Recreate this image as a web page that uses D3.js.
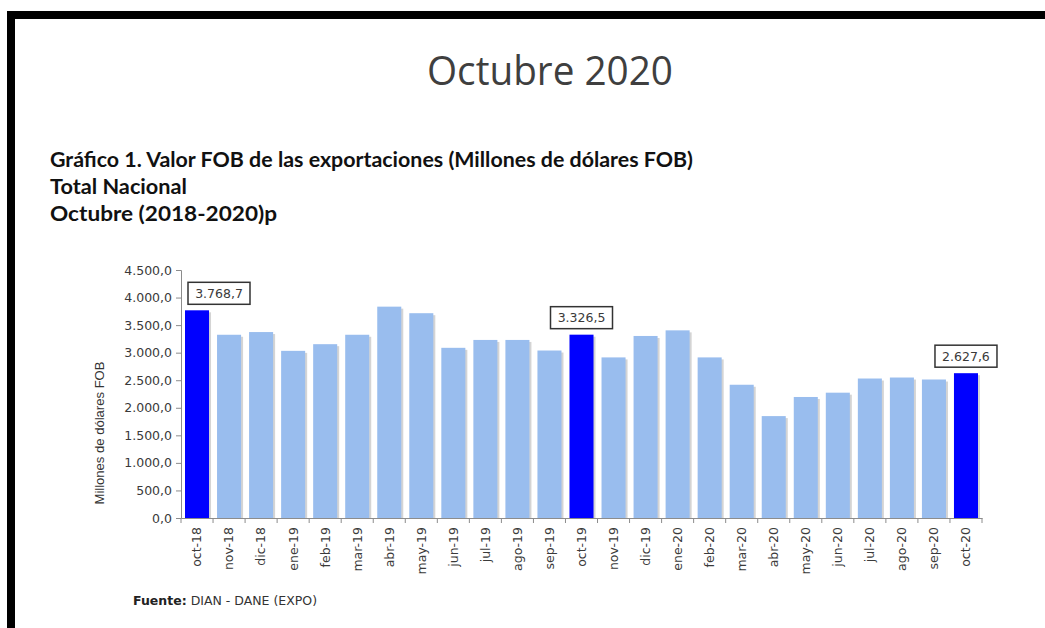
<!DOCTYPE html>
<html>
<head>
<meta charset="utf-8">
<script src="https://cdn.jsdelivr.net/npm/d3@7"></script>
<style>
  body { margin: 0; background: #fff; }
  svg { display: block; }
</style>
</head>
<body>
<div id="chart"></div>
<script>
var w = 1045, h = 628;

// data
var months = ['oct-18', 'nov-18', 'dic-18', 'ene-19', 'feb-19', 'mar-19', 'abr-19', 'may-19',
  'jun-19', 'jul-19', 'ago-19', 'sep-19', 'oct-19', 'nov-19', 'dic-19', 'ene-20', 'feb-20',
  'mar-20', 'abr-20', 'may-20', 'jun-20', 'jul-20', 'ago-20', 'sep-20', 'oct-20'];
var values = [3768.7, 3325, 3374, 3033, 3154, 3325, 3835, 3716, 3088, 3231, 3231, 3039,
  3326.5, 2914, 3303, 3405, 2914, 2418, 1849, 2196, 2274, 2531, 2549, 2513, 2627.6];
var highlighted = ['oct-18', 'oct-19', 'oct-20'];
var yTicks = [0, 500, 1000, 1500, 2000, 2500, 3000, 3500, 4000, 4500];

var fmt = d3.formatLocale({ decimal: ',', thousands: '.', grouping: [3], currency: ['', ''] }).format(',.1f');

var svg = d3.select('#chart').append('svg').attr('width', w).attr('height', h);

// page frame (top and left black bars)
svg.append('rect').attr('x', 7).attr('y', 11).attr('width', w - 7).attr('height', 8).attr('fill', '#000');
svg.append('rect').attr('x', 7).attr('y', 11).attr('width', 8).attr('height', h - 11).attr('fill', '#000');

// titles
svg.append('text')
  .attr('x', 550).attr('y', 85)
  .attr('text-anchor', 'middle')
  .attr('textLength', 246).attr('lengthAdjust', 'spacingAndGlyphs')
  .style('font-family', 'Open Sans, sans-serif').style('font-size', '40px')
  .attr('fill', '#3f3f3f')
  .text('Octubre 2020');

var sub = ['Gráfico 1. Valor FOB de las exportaciones (Millones de dólares FOB)', 'Total Nacional', 'Octubre (2018-2020)p'];
var subLen = [643, 137, 227];
svg.selectAll('text.sub').data(sub).enter().append('text')
  .attr('class', 'sub')
  .attr('x', 50)
  .attr('y', function (d, i) { return 167 + i * 27; })
  .attr('textLength', function (d, i) { return subLen[i]; })
  .attr('lengthAdjust', 'spacingAndGlyphs')
  .style('font-family', 'Lato, sans-serif').style('font-size', '20px').style('font-weight', 'bold')
  .attr('fill', '#111')
  .text(function (d) { return d; });

// scales
var x = d3.scaleBand().domain(months).range([181, 982]).paddingInner(0.25).paddingOuter(0.125);
var y = d3.scaleLinear().domain([0, 4500]).range([518, 270]);

var g = svg.append('g');

// bars with a soft shadow
g.selectAll('rect.shadow').data(months).enter().append('rect')
  .attr('class', 'shadow')
  .attr('x', function (d) { return x(d) + 2; })
  .attr('y', function (d, i) { return y(values[i]) + 2; })
  .attr('width', x.bandwidth())
  .attr('height', function (d, i) { return y(0) - y(values[i]) - 2; })
  .attr('fill', '#d4d4d4');

g.selectAll('rect.bar').data(months).enter().append('rect')
  .attr('class', 'bar')
  .attr('x', function (d) { return x(d); })
  .attr('y', function (d, i) { return y(values[i]); })
  .attr('width', x.bandwidth())
  .attr('height', function (d, i) { return y(0) - y(values[i]); })
  .attr('fill', function (d) { return highlighted.indexOf(d) >= 0 ? '#0000ff' : '#99bdee'; });

// y axis
var yAxis = g.append('g').attr('transform', 'translate(181,0)')
  .call(d3.axisLeft(y).tickValues(yTicks).tickSize(5).tickFormat(fmt));
yAxis.select('.domain').attr('stroke', '#8c8c8c');
yAxis.selectAll('.tick line').attr('stroke', '#8c8c8c');
yAxis.selectAll('.tick text')
  .attr('fill', '#3a3a3a').attr('x', -9)
  .style('font-family', 'DejaVu Sans, sans-serif').style('font-size', '12.5px');

// x axis
var xAxis = g.append('g').attr('transform', 'translate(0,518)')
  .call(d3.axisBottom(x).tickSize(0).tickSizeOuter(0));
xAxis.select('.domain').attr('stroke', '#8c8c8c');
xAxis.selectAll('.tick text')
  .attr('transform', 'rotate(-90)')
  .attr('x', -9).attr('y', 0).attr('dy', '0.35em')
  .attr('text-anchor', 'end')
  .attr('fill', '#3a3a3a')
  .style('font-family', 'DejaVu Sans, sans-serif').style('font-size', '12.5px');

// tick marks at band boundaries
var step = x.step();
var bounds = months.map(function (d) { return x(d) - x.paddingInner() * step / 2; }).concat([982]);
g.selectAll('line.xt').data(bounds).enter().append('line')
  .attr('class', 'xt')
  .attr('x1', function (d) { return d; }).attr('x2', function (d) { return d; })
  .attr('y1', 518).attr('y2', 523)
  .attr('stroke', '#8c8c8c');

// y axis title
svg.append('text')
  .attr('transform', 'translate(104,433) rotate(-90)')
  .attr('text-anchor', 'middle')
  .style('font-family', 'Liberation Sans, sans-serif').style('font-size', '12.5px')
  .attr('textLength', 143).attr('lengthAdjust', 'spacingAndGlyphs')
  .attr('fill', '#333')
  .text('Millones de dólares FOB');

// value labels for highlighted bars
var boxW = 62, boxH = 22;
highlighted.forEach(function (m) {
  var i = months.indexOf(m);
  var cx = x(m) + x.bandwidth() / 2;
  var bx = Math.max(cx - boxW / 2, 188);
  var by = y(values[i]) - 6 - boxH;
  g.append('rect')
    .attr('x', bx).attr('y', by).attr('width', boxW).attr('height', boxH)
    .attr('fill', '#fff').attr('stroke', '#333').attr('stroke-width', 1.5);
  g.append('text')
    .attr('x', bx + boxW / 2).attr('y', by + boxH / 2).attr('dy', '0.36em')
    .attr('text-anchor', 'middle')
    .style('font-family', 'DejaVu Sans, sans-serif').style('font-size', '12.5px')
    .attr('fill', '#3a3a3a')
    .text(fmt(values[i]));
});

// source
var src = svg.append('text').attr('x', 133).attr('y', 605)
  .style('font-family', 'DejaVu Sans, sans-serif').style('font-size', '12.5px').attr('fill', '#333');
src.append('tspan').style('font-weight', 'bold').attr('fill', '#222').text('Fuente:');
src.append('tspan').text(' DIAN  - DANE (EXPO)');
</script>
</body>
</html>
